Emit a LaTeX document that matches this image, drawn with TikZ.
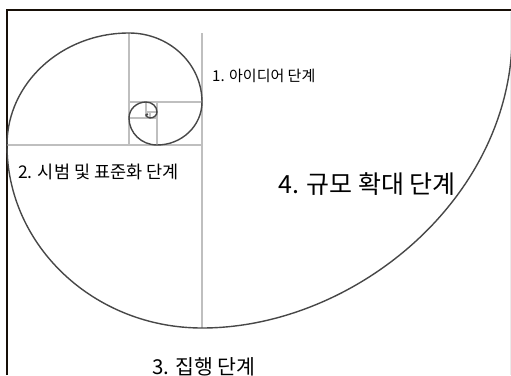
\documentclass[tikz,border=0pt]{standalone}
\usepackage{fontspec}
\newfontfamily\kr{Noto Sans CJK KR}
\begin{document}
\begin{tikzpicture}[x=1pt,y=-1pt,
  gridline/.style={draw=black!25, line width=1.1pt},
  spiral/.style={draw=black!72, line width=1.4pt},
  framel/.style={draw=black!88!brown, line width=1.5pt},
  lbl/.style={anchor=base west, inner sep=0pt, font=\kr}]
\useasboundingbox (0,0) rectangle (511,375);
\fill[white] (0,0) rectangle (511,375);
% frame
\draw[framel] (7,375) -- (7,10) -- (511,10);
\draw[draw=black!8, line width=0.8pt] (510.5,12) -- (510.5,375);
% grid of squares
\draw[gridline] (7,145) -- (202,145);
\draw[gridline] (202,33) -- (202,328);
\draw[gridline] (129,33) -- (129,145);
\draw[gridline] (129,102) -- (202,102);
\draw[gridline] (157,102) -- (157,145);
\draw[gridline] (129,118) -- (157,118);
\draw[gridline] (146,102) -- (146,118);
\draw[gridline] (146,112) -- (157,112);
\draw[gridline] (150,112) -- (150,118);
% spiral
\draw[spiral] (148,114)
  arc[start angle=-90, end angle=-180, x radius=2, y radius=2];
\draw[spiral] (146,114)
  arc[start angle=180, end angle=90, x radius=4, y radius=4]
  arc[start angle=90, end angle=0, x radius=7, y radius=6]
  arc[start angle=0, end angle=-90, x radius=11, y radius=10]
  arc[start angle=-90, end angle=-180, x radius=17, y radius=16]
  arc[start angle=180, end angle=90, x radius=28, y radius=27]
  arc[start angle=90, end angle=0, x radius=45, y radius=43]
  arc[start angle=0, end angle=-90, x radius=73, y radius=69]
  arc[start angle=-90, end angle=-180, x radius=122, y radius=112]
  arc[start angle=180, end angle=90, x radius=195, y radius=183]
  .. controls (350,328) and (505,205) .. (512,45);
% labels
\node[lbl, font=\kr\fontsize{15}{17}\selectfont] (s1) at (212,81) {1. 아이디어 단계};
\node[lbl, font=\kr\fontsize{17.5}{20}\selectfont] (s2) at (18,178) {2. 시범 및 표준화 단계};
\node[lbl, font=\kr\fontsize{25}{29}\selectfont] (s4) at (278,193) {4. 규모 확대 단계};
\node[lbl, font=\kr\fontsize{20.5}{24}\selectfont] (s3) at (152,374) {3. 집행 단계};
\end{tikzpicture}
\end{document}
